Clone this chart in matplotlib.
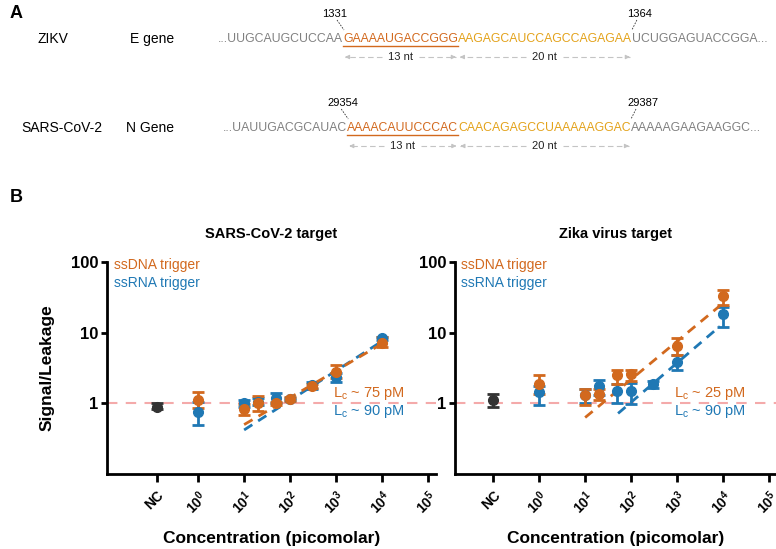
import numpy as np
import matplotlib.pyplot as plt
from matplotlib.ticker import NullLocator

plt.rcParams['font.family'] = ['Liberation Sans', 'DejaVu Sans']
plt.rcParams['mathtext.fontset'] = 'custom'
plt.rcParams['mathtext.rm'] = 'Liberation Sans'
plt.rcParams['mathtext.bf'] = 'Liberation Sans:bold'
plt.rcParams['mathtext.default'] = 'regular'

#colours
ORANGE = '#D2691E'
BLUE = '#1F78B4'
GOLD = '#E3A21A'
GREY = '#808080'
DARK = '#333333'
PINK = '#F4AAAA'

# ---- panel A: sequences ----
zikv_parts = ['...UUGCAUGCUCCAA', 'GAAAAUGACCGGG', 'AAGAGCAUCCAGCCAGAGAA', 'UCUGGAGUACCGGA...']
sars_parts = ['...UAUUGACGCAUAC', 'AAAACAUUCCCAC', 'CAACAGAGCCUAAAAAGGAC', 'AAAAAGAAGAAGGC...']
zikv_pos = ['1331', '1364']
sars_pos = ['29354', '29387']
seg_lengths = ['13 nt', '20 nt']

# ---- panel B: data (signal/leakage) ----
conc = [1, 10, 20, 50, 100, 300, 1000, 10000]

sars_nc = [0.9, 0.82, 1.0]  # mean, lo, hi
sars_dna = [1.1, 0.82, 1.0, 1.0, 1.15, 1.75, 2.8, 7.1]
sars_dna_lo = [0.85, 0.68, 0.78, 0.95, 1.08, 1.65, 2.3, 6.2]
sars_dna_hi = [1.45, 0.98, 1.25, 1.05, 1.22, 1.85, 3.5, 8.6]
sars_rna = [0.75, 1.0, 1.05, 1.2, 1.15, 1.8, 2.35, 8.3]
sars_rna_lo = [0.5, 0.9, 0.95, 1.0, 1.1, 1.6, 2.0, 7.8]
sars_rna_hi = [1.03, 1.1, 1.2, 1.4, 1.2, 2.0, 2.7, 8.8]
sars_dna_fit_x = [10, 10000]
sars_dna_fit = [0.5, 7.0]
sars_rna_fit_x = [10, 10000]
sars_rna_fit = [0.42, 7.6]
sars_lc = ['75', '90']

zika_nc = [1.12, 0.9, 1.35]
zika_dna = [1.9, 1.3, 1.35, 2.5, 2.6, np.nan, 6.5, 33]
zika_dna_lo = [1.35, 0.95, 1.1, 1.9, 2.1, np.nan, 4.9, 25]
zika_dna_hi = [2.5, 1.6, 1.6, 3.0, 3.0, np.nan, 8.4, 40]
zika_rna = [1.45, 1.3, 1.75, 1.5, 1.5, 1.9, 3.8, 18.3]
zika_rna_lo = [0.95, 1.0, 1.3, 1.0, 0.97, 1.65, 3.0, 12]
zika_rna_hi = [1.75, 1.6, 2.15, 1.9, 1.92, 2.1, 4.8, 23]
zika_dna_fit_x = [10, 8500]
zika_dna_fit = [0.63, 24]
zika_rna_fit_x = [52, 8500]
zika_rna_fit = [0.72, 12.3]
zika_lc = ['25', '90']

W, H = 776, 549
fig = plt.figure(figsize=(W / 100, H / 100), dpi=100)

top = fig.add_axes([0, 0, 1, 1])
top.set_xlim(0, W)
top.set_ylim(H, 0)
top.axis('off')
renderer = fig.canvas.get_renderer()


def seq_row(x0, y, parts):
    colors = [GREY, ORANGE, GOLD, GREY]
    x = x0
    spans = []
    for s, c in zip(parts, colors):
        t = top.text(x, y, s, color=c, fontsize=8.8, va='center', ha='left')
        bb = t.get_window_extent(renderer)
        x1 = top.transData.inverted().transform((bb.x1, bb.y0))[0]
        spans.append((x, x1))
        x = x1
    return spans


def arrow_pair(a, b, y, label):
    mid = (a + b) / 2
    t = top.text(mid, y, label, fontsize=8, ha='center', va='center', color='#222222')
    bb = t.get_window_extent(renderer)
    tl = top.transData.inverted().transform((bb.x0, bb.y0))[0]
    tr = top.transData.inverted().transform((bb.x1, bb.y0))[0]
    for start, end in [(tl - 6, a + 2), (tr + 6, b - 2)]:
        top.plot([start, end], [y, y], ls=(0, (5, 3)), color='#C4C4C4', lw=0.8)
        d = 1 if end > start else -1
        top.annotate('', xy=(end, y), xytext=(end - d * 5, y),
                     arrowprops=dict(arrowstyle='-|>', color='#C4C4C4', lw=0.8, mutation_scale=6))


def gene_row(y, name, gene, parts, pos, x0, lab_dx):
    top.text(name[1], y, name[0], fontsize=10, ha='center', va='center')
    top.text(gene[1], y, gene[0], fontsize=10, ha='center', va='center')
    spans = seq_row(x0, y, parts)
    o0, o1 = spans[1]
    g1 = spans[2][1]
    top.plot([o0, o1], [y + 7, y + 7], color=ORANGE, lw=1)
    top.text(o0 - lab_dx[0], y - 25, pos[0], fontsize=8, ha='center', va='center')
    top.text(g1 + lab_dx[1], y - 25, pos[1], fontsize=8, ha='center', va='center')
    top.plot([o0 - 6, o0 + 1], [y - 19, y - 9], ls=(0, (2, 1.5)), color='#333333', lw=0.6)
    top.plot([g1 + 5, g1], [y - 19, y - 9], ls=(0, (2, 1.5)), color='#333333', lw=0.6)
    arrow_pair(o0, o1, y + 18, seg_lengths[0])
    arrow_pair(spans[2][0], g1, y + 18, seg_lengths[1])


top.text(10, 14, 'A', fontsize=13, fontweight='bold', ha='left', va='center')
top.text(10, 198, 'B', fontsize=13, fontweight='bold', ha='left', va='center')
gene_row(39, ('ZIKV', 53), ('E gene', 152), zikv_parts, zikv_pos, 218, (8, 8))
gene_row(128, ('SARS-CoV-2', 62), ('N Gene', 150), sars_parts, sars_pos, 223, (4, 12))


def px_axes(x0, x1, y0, y1):
    return fig.add_axes([x0 / W, 1 - y1 / H, (x1 - x0) / W, (y1 - y0) / H])


def draw_panel(ax, title, nc_x, nc, dna, dlo, dhi, rna, rlo, rhi, fits, lc, xlim, ylabel):
    ax.set_xscale('log')
    ax.set_yscale('log')
    ax.axhline(1, color=PINK, ls=(0, (5, 4)), lw=1.5, zorder=0)
    eb = dict(fmt='o', ms=7, elinewidth=2, capsize=4, capthick=2)
    c = np.array(conc, dtype=float)
    for y, lo, hi, col in [(rna, rlo, rhi, BLUE), (dna, dlo, dhi, ORANGE)]:
        y = np.array(y, dtype=float)
        err = [y - np.array(lo, dtype=float), np.array(hi, dtype=float) - y]
        ax.errorbar(c, y, yerr=err, color=col, **eb)
    ax.errorbar([nc_x], [nc[0]], yerr=[[nc[0] - nc[1]], [nc[2] - nc[0]]], color=DARK, **eb)
    for fx, fy, col in fits:
        ax.plot(fx, fy, color=col, ls=(0, (3.5, 2.5)), lw=2)
    ax.set_xlim(*xlim)
    ax.set_ylim(0.1, 100)
    ax.set_xticks([nc_x, 1, 10, 100, 1e3, 1e4, 1e5])
    ax.set_xticklabels(['NC'] + [r'$\mathbf{10^{%d}}$' % k for k in range(6)],
                       rotation=45, ha='right', rotation_mode='anchor',
                       fontweight='bold', fontsize=10)
    ax.set_yticks([1, 10, 100])
    ax.set_yticklabels(['1', '10', '100'], fontweight='bold', fontsize=12)
    ax.xaxis.set_minor_locator(NullLocator())
    ax.yaxis.set_minor_locator(NullLocator())
    ax.tick_params(axis='x', width=2, length=6, pad=4)
    ax.tick_params(axis='y', width=2, length=4, pad=2)
    for s in ['top', 'right']:
        ax.spines[s].set_visible(False)
    for s in ['left', 'bottom']:
        ax.spines[s].set_linewidth(2)
    ax.patch.set_alpha(0)
    ax.set_title(title, fontweight='bold', fontsize=10.5, pad=17)
    ax.set_xlabel('Concentration (picomolar)', fontweight='bold', fontsize=12.5, labelpad=10)
    if ylabel:
        ax.set_ylabel('Signal/Leakage', fontweight='bold', fontsize=12.5, labelpad=12)
    ax.text(0.02, 0.985, 'ssDNA trigger', color=ORANGE, fontsize=10, transform=ax.transAxes, va='center')
    ax.text(0.02, 0.90, 'ssRNA trigger', color=BLUE, fontsize=10, transform=ax.transAxes, va='center')
    ax.text(10 ** 4.5, 1.4, r'L$_{c}$ ~ %s pM' % lc[0], color=ORANGE, fontsize=10.5, ha='right', va='center')
    ax.text(10 ** 4.5, 0.77, r'L$_{c}$ ~ %s pM' % lc[1], color=BLUE, fontsize=10.5, ha='right', va='center')


ax1 = px_axes(107, 436, 262, 474)
draw_panel(ax1, 'SARS-CoV-2 target', 10 ** -0.9, sars_nc, sars_dna, sars_dna_lo, sars_dna_hi,
           sars_rna, sars_rna_lo, sars_rna_hi,
           [(sars_rna_fit_x, sars_rna_fit, BLUE), (sars_dna_fit_x, sars_dna_fit, ORANGE)],
           sars_lc, (10 ** -1.98, 10 ** 5.17), True)

ax2 = px_axes(455, 776, 262, 474)
draw_panel(ax2, 'Zika virus target', 10 ** -1.0, zika_nc, zika_dna, zika_dna_lo, zika_dna_hi,
           zika_rna, zika_rna_lo, zika_rna_hi,
           [(zika_rna_fit_x, zika_rna_fit, BLUE), (zika_dna_fit_x, zika_dna_fit, ORANGE)],
           zika_lc, (10 ** -1.83, 10 ** 5.15), False)

fig.savefig('out.png', dpi=100)
